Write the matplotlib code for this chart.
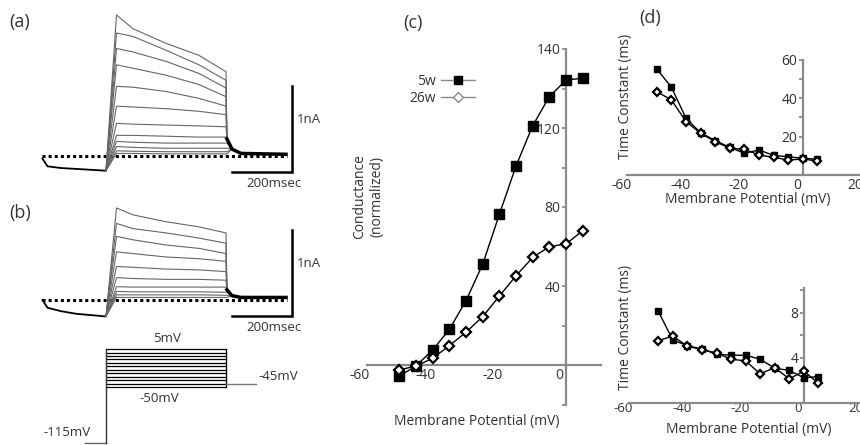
import matplotlib
matplotlib.use("Agg")
import matplotlib.pyplot as plt
from matplotlib.lines import Line2D
import numpy as np

plt.rcParams['font.family'] = ['Open Sans', 'DejaVu Sans']

# --------------------------------------------------
# data
# --------------------------------------------------
volt = [-48, -43, -38, -33, -28, -23, -18, -13, -8, -3, 2, 7]

# (c) conductance (normalized)
g_5w = [-5.6, -0.5, 7.6, 18.0, 32.6, 51.0, 76.3, 100.8, 121.2, 135.9, 144.3, 145.2]
g_26w = [-2.5, -0.5, 3.4, 9.8, 16.6, 24.5, 34.9, 45.2, 54.5, 59.9, 61.3, 68.0]

# (d) time constants (ms)
tau_slow_5w = [55.2, 45.7, 29.5, 22.0, 17.9, 14.4, 11.3, 13.0, 10.2, 9.5, 8.7, 8.2]
tau_slow_26w = [43.4, 39.1, 27.8, 21.7, 17.4, 13.9, 13.4, 10.4, 9.2, 7.8, 8.3, 7.3]
tau_fast_5w = [8.1, 5.55, 5.05, 4.75, 4.3, 4.2, 4.2, 3.85, 3.05, 2.85, 2.2, 2.3]
tau_fast_26w = [5.5, 5.9, 5.0, 4.7, 4.4, 3.85, 3.7, 2.55, 3.1, 2.1, 2.8, 1.7]

# (a)/(b) current traces (nA), sampled at step_t (ms after step onset)
step_t = [0, 35, 90, 200, 310, 400]
traces_a = [
    [0, 1.64, 1.48, 1.31, 1.17, 0.98],
    [0, 1.43, 1.39, 1.23, 1.06, 0.88],
    [0, 1.25, 1.21, 1.10, 0.96, 0.79],
    [0, 1.06, 1.02, 0.94, 0.83, 0.69],
    [0, 0.81, 0.80, 0.75, 0.67, 0.58],
    [0, 0.58, 0.57, 0.55, 0.52, 0.48],
    [0, 0.38, 0.37, 0.36, 0.35, 0.34],
    [0, 0.24, 0.24, 0.23, 0.22, 0.22],
    [0, 0.17, 0.16, 0.15, 0.15, 0.15],
    [0, 0.11, 0.10, 0.09, 0.09, 0.09],
    [0, 0.06, 0.055, 0.05, 0.05, 0.05],
    [0, 0.03, 0.03, 0.025, 0.025, 0.025],
]
traces_b = [
    [0, 1.07, 0.99, 0.91, 0.85, 0.78],
    [0, 0.89, 0.83, 0.78, 0.72, 0.66],
    [0, 0.74, 0.70, 0.64, 0.60, 0.54],
    [0, 0.56, 0.54, 0.50, 0.48, 0.45],
    [0, 0.39, 0.38, 0.36, 0.35, 0.33],
    [0, 0.26, 0.25, 0.24, 0.24, 0.23],
    [0, 0.155, 0.15, 0.15, 0.15, 0.15],
    [0, 0.10, 0.095, 0.095, 0.095, 0.09],
    [0, 0.06, 0.06, 0.06, 0.06, 0.055],
    [0, 0.03, 0.03, 0.03, 0.03, 0.03],
]
pre_t = [-212, -195, -150, -100, -5, 0]
pre_a = [-0.03, -0.12, -0.14, -0.15, -0.17, -0.17]
pre_b = [0.0, -0.09, -0.13, -0.16, -0.19, -0.19]
tail_t = [403, 420, 450, 600]
tail_a = [0.20, 0.08, 0.03, 0.02]
tail_b = [0.12, 0.05, 0.03, 0.03]

# voltage protocol (mV)
step_levels = [5, 0, -5, -10, -15, -20, -25, -30, -35, -40, -45, -50]
hold_mv = -115
post_mv = -45

W, H = 860, 445
fig = plt.figure(figsize=(W / 100, H / 100), dpi=100)

AX_GRAY = '#8a8a8a'
TXT = '#333333'


def px_axes(left, top, right, bottom, x0, sx, y0, sy):
    # axes placed in pixel coords; x0/y0 = pixel of data zero, sx/sy = px per unit
    ax = fig.add_axes([left / W, 1 - bottom / H, (right - left) / W, (bottom - top) / H])
    ax.set_xlim((left - x0) / sx, (right - x0) / sx)
    ax.set_ylim((y0 - bottom) / sy, (y0 - top) / sy)
    return ax


def ftext(x, y, s, **kw):
    fig.text(x / W, 1 - y / H, s, **kw)


# --------------------------------------------------
# (a) and (b) current traces
# --------------------------------------------------
def draw_traces(ax, traces, pre, tail):
    ax.axis('off')
    ax.plot([-213, 603], [0, 0], color='k', lw=2.2, ls=(0, (1, 1)))
    ax.plot(pre_t, pre, color='k', lw=1.3)
    for tr in traces:
        t = pre_t[-1:] + step_t[1:]
        v = [pre[-1]] + tr[1:]
        tl = [min(tr[-1], tail[0])] + tail[1:]
        ax.plot(t + tail_t, v + tl, color='#666666', lw=0.8)
    ax.plot(tail_t, tail, color='k', lw=2.5)
    # scale bars
    ax.plot([420, 620, 620], [-0.186, -0.186, 0.814], color='k', lw=1.8,
            solid_joinstyle='miter', clip_on=False)
    ax.text(637, 0.42, '1nA', fontsize=9.5, color=TXT, va='center', ha='left')
    ax.text(560, -0.32, '200msec', fontsize=9.5, color=TXT, va='center', ha='center')


ax_a = px_axes(35, 5, 340, 195, 106, 0.3, 156, 86)
draw_traces(ax_a, traces_a, pre_a, tail_a)
ax_b = px_axes(35, 195, 340, 335, 106, 0.3, 300, 86)
draw_traces(ax_b, traces_b, pre_b, tail_b)


# voltage protocol: the hold segment is drawn compressed, as in the original sketch
def p_fwd(v):
    v = np.asarray(v, dtype=float)
    return np.where(v < -50, -50 + (v + 50) * 1.245, v)


def p_inv(p):
    p = np.asarray(p, dtype=float)
    return np.where(p < -50, -50 + (p + 50) / 1.245, p)


ax_p = fig.add_axes([35 / W, 0, 305 / W, 110 / H])
ax_p.axis('off')
ax_p.set_xlim((35 - 106) / 0.3, (340 - 106) / 0.3)
ax_p.set_yscale('function', functions=(p_fwd, p_inv))
ax_p.set_ylim(float(p_inv((352.5 - 445) / 0.691)), float(p_inv((352.5 - 335) / 0.691)))
for lv in step_levels:
    ax_p.plot([0, 400], [lv, lv], color='k', lw=0.9)
ax_p.plot([-70, 0], [hold_mv, hold_mv], color='#666666', lw=1)
ax_p.plot([0, 0], [hold_mv, step_levels[0]], color='#333333', lw=1)
ax_p.plot([400, 400], [step_levels[0], step_levels[-1]], color='k', lw=0.9)
ax_p.plot([400, 500], [post_mv, post_mv], color='#777777', lw=1)
ftext(167, 338, '5mV', fontsize=9.5, color=TXT, ha='center', va='center')
ftext(159, 398, '-50mV', fontsize=9.5, color=TXT, ha='center', va='center')
ftext(258, 377, '-45mV', fontsize=9.5, color=TXT, ha='left', va='center')
ftext(67, 432, '-115mV', fontsize=9.5, color=TXT, ha='center', va='center')


# --------------------------------------------------
# (c) and (d) axes
# --------------------------------------------------
def style_axes(ax, yticks, ylabels, xbounds, xticks=(-60, -40, -20, 0, 20)):
    for s in ('top', 'right'):
        ax.spines[s].set_visible(False)
    for s in ('left', 'bottom'):
        ax.spines[s].set_color(AX_GRAY)
        ax.spines[s].set_linewidth(1.6)
    ax.spines['left'].set_position(('data', 2))
    ax.spines['bottom'].set_bounds(*xbounds)
    ax.set_yticks(yticks)
    ax.set_yticklabels(ylabels)
    ax.set_xticks(xticks)
    ax.set_xticklabels([str(x) for x in xticks])
    ax.tick_params(axis='y', direction='out', length=3, width=1.3, color=AX_GRAY,
                   labelsize=10, labelcolor=TXT, pad=1)
    ax.tick_params(axis='x', length=0, labelsize=10, labelcolor=TXT, pad=2)
    ax.patch.set_visible(False)


def plot_pair(ax, y5, y26, ms_sq, ms_di):
    ax.plot(volt, y5, color='k', lw=1, marker='s', ms=ms_sq, mfc='k', mec='k',
            clip_on=False, zorder=3)
    ax.plot(volt, y26, color='k', lw=1, marker='D', ms=ms_di, mfc='white', mec='k',
            mew=1.6, clip_on=False, zorder=3)


ax_c = px_axes(345, 49, 601, 404.5, 559.4, 3.335, 365, 1.975)
style_axes(ax_c, [-20, 0, 20, 40, 60, 80, 100, 120, 140, 160],
           ['', '', '', '40', '', '80', '', '120', '', '140'],
           (-57.8, 12.5), xticks=(-60, -40, -20, 0))
ax_c.spines['bottom'].set_position(('data', 0))
plot_pair(ax_c, g_5w, g_26w, 6.5, 5)
leg = ax_c.legend(
    handles=[Line2D([], [], color=AX_GRAY, lw=1, marker='s', ms=6, mfc='k', mec='k'),
             Line2D([], [], color=AX_GRAY, lw=1, marker='D', ms=5, mfc='white', mec=AX_GRAY)],
    labels=['5w', '26w'], markerfirst=False, frameon=False, fontsize=10,
    handlelength=2.4, handletextpad=0.4, labelspacing=0.2,
    loc='upper right', bbox_to_anchor=(487 / W, 1 - 61 / H), bbox_transform=fig.transFigure)
for t in leg.get_texts():
    t.set_color(TXT)

ftext(360, 197, 'Conductance', rotation=90, fontsize=10, color=TXT, ha='center', va='center')
ftext(377, 197, '(normalized)', rotation=90, fontsize=10, color=TXT, ha='center', va='center')
ftext(477, 422, 'Membrane Potential (mV)', fontsize=10, color=TXT, ha='center', va='center')

ax_d1 = px_axes(610, 59.8, 860, 175, 797, 2.92, 175, 1.92)
style_axes(ax_d1, [10, 20, 30, 40, 50, 60], ['', '20', '', '40', '', '60'], (-58.2, 22))
plot_pair(ax_d1, tau_slow_5w, tau_slow_26w, 5, 4.5)
ftext(625, 96, 'Time Constant (ms)', rotation=90, fontsize=10, color=TXT, ha='center', va='center')
ftext(748, 200, 'Membrane Potential (mV)', fontsize=10, color=TXT, ha='center', va='center')

ax_d2 = px_axes(610, 287.6, 860, 402.5, 798, 2.91, 402.5, 11.25)
style_axes(ax_d2, [2, 4, 6, 8, 10], ['', '4', '', '8', ''], (-58.2, 22))
ax_d2.tick_params(axis='x', labelsize=9.5, pad=0)
plot_pair(ax_d2, tau_fast_5w, tau_fast_26w, 5, 4.5)
ftext(625, 327, 'Time Constant (ms)', rotation=90, fontsize=10, color=TXT, ha='center', va='center')
ftext(749, 429, 'Membrane Potential (mV)', fontsize=10, color=TXT, ha='center', va='center')

# panel letters
ftext(20, 22, '(a)', fontsize=13, color=TXT, ha='center', va='center')
ftext(20, 213, '(b)', fontsize=13, color=TXT, ha='center', va='center')
ftext(413, 23, '(c)', fontsize=13, color=TXT, ha='center', va='center')
ftext(650, 18, '(d)', fontsize=13, color=TXT, ha='center', va='center')

fig.savefig('out.png', dpi=100)
